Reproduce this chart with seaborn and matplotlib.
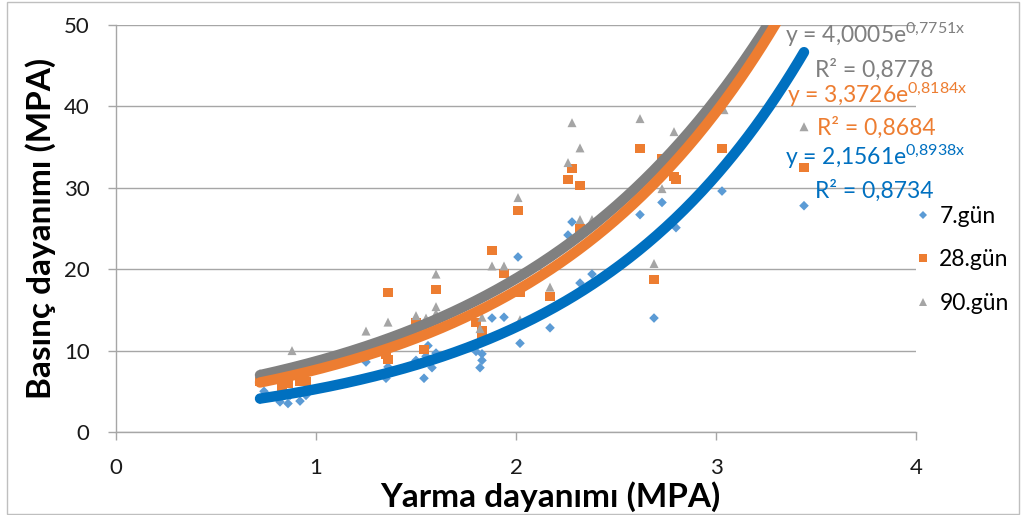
import numpy as np
import pandas as pd
import matplotlib
matplotlib.use("Agg")
import matplotlib.pyplot as plt
import seaborn as sns
from matplotlib.patches import Rectangle

# ---------------- data ----------------
series_names = ["7.gün", "28.gün", "90.gün"]

x7 = [0.72, 0.74, 0.82, 0.86, 0.87, 0.92, 0.95,
      1.25, 1.35, 1.36, 1.50, 1.54, 1.55, 1.56, 1.58, 1.60,
      1.80, 1.82, 1.83, 1.83, 1.88, 1.94, 2.01, 2.02, 2.17,
      2.26, 2.28, 2.32, 2.32, 2.38, 2.62, 2.69, 2.73, 2.80, 3.03, 3.44]
y7 = [4.0, 5.0, 3.7, 3.5, 4.5, 3.8, 4.5,
      8.6, 6.6, 8.0, 8.8, 6.6, 9.3, 10.6, 7.9, 9.7,
      9.9, 7.9, 9.6, 8.8, 14.0, 14.1, 21.5, 10.9, 12.8,
      24.2, 25.8, 25.4, 18.3, 19.4, 26.7, 14.0, 28.2, 25.1, 29.6, 27.8]

x28 = [0.72, 0.83, 0.86, 0.92, 0.95,
       1.35, 1.36, 1.36, 1.50, 1.54, 1.60,
       1.80, 1.83, 1.83, 1.88, 1.94, 2.01, 2.02, 2.17,
       2.26, 2.28, 2.32, 2.32, 2.62, 2.69, 2.73, 2.79, 2.80, 3.03, 3.44]
y28 = [6.2, 5.6, 6.0, 6.2, 6.2,
       9.5, 8.9, 17.1, 13.4, 10.1, 17.5,
       13.4, 12.5, 12.0, 22.3, 19.5, 27.2, 17.1, 16.6,
       31.0, 32.4, 30.3, 25.0, 34.8, 18.7, 33.6, 31.4, 31.0, 34.8, 32.5]

x90 = [0.72, 0.88,
       1.25, 1.36, 1.50, 1.55, 1.60, 1.60, 1.60,
       1.82, 1.83, 1.88, 1.94, 2.01, 2.02, 2.17,
       2.26, 2.28, 2.32, 2.32, 2.38, 2.62, 2.69, 2.73, 2.79, 3.04, 3.44]
y90 = [7.2, 10.0,
       12.4, 13.5, 14.3, 14.0, 19.4, 15.4, 14.6,
       12.7, 14.1, 20.4, 20.4, 28.8, 13.8, 17.8,
       33.1, 38.0, 34.9, 26.1, 26.1, 38.5, 20.7, 29.9, 36.9, 39.6, 37.5]

# exponential trend coefficients y = a * exp(b x)
trend_a = [2.1561, 3.3726, 4.0005]
trend_b = [0.8938, 0.8184, 0.7751]
trend_r2 = ["0,8734", "0,8684", "0,8778"]
trend_a_txt = ["2,1561", "3,3726", "4,0005"]
trend_b_txt = ["0,8938", "0,8184", "0,7751"]

x_ticks = [0, 1, 2, 3, 4]
y_ticks = [0, 10, 20, 30, 40, 50]

# ---------------- style ----------------
sns.set_theme(style="white")
plt.rcParams["font.family"] = ["Lato", "DejaVu Sans"]
plt.rcParams["mathtext.fontset"] = "custom"
plt.rcParams["mathtext.rm"] = "Lato"
plt.rcParams["mathtext.default"] = "regular"

marker_colors = ["#5b9bd5", "#ed7d31", "#a5a5a5"]
line_colors = ["#0070c0", "#ed7d31", "#808080"]
text_colors = ["#0070c0", "#ed7d31", "#7f7f7f"]
markers = ["D", "s", "^"]
msizes = [24, 42, 42]

W, H = 1023, 515
fig = plt.figure(figsize=(W / 100, H / 100), dpi=100)
ax = fig.add_axes([116 / W, 1 - 432 / H, 800 / W, 407 / H])

xs = [x7, x28, x90]
ys = [y7, y28, y90]

for i in range(3):
    df = pd.DataFrame({"x": xs[i], "y": ys[i]})
    sns.scatterplot(data=df, x="x", y="y", ax=ax, marker=markers[i],
                    color=marker_colors[i], s=msizes[i], edgecolor="none",
                    zorder=3, label=series_names[i], legend=False)

for i in range(3):
    xx = np.linspace(min(xs[i]), max(xs[i]), 300)
    yy = trend_a[i] * np.exp(trend_b[i] * xx)
    sns.lineplot(x=xx, y=yy, ax=ax, color=line_colors[i], lw=7.5,
                 solid_capstyle="round", zorder=4 + (2 - i) * 0.1, sort=False,
                 estimator=None)

ax.set_xlim(0, 4)
ax.set_ylim(0, 50)
ax.set_xticks(x_ticks)
ax.set_yticks(y_ticks)
ax.set_xticklabels([str(t) for t in x_ticks])
ax.set_yticklabels([str(t) for t in y_ticks])
ax.grid(axis="y", color="#a6a6a6", lw=1)
ax.grid(axis="x", visible=False)
ax.set_axisbelow(True)
for s in ["top", "right"]:
    ax.spines[s].set_visible(False)
for s in ["left", "bottom"]:
    ax.spines[s].set_color("#a6a6a6")
    ax.spines[s].set_linewidth(1)
ax.tick_params(axis="both", which="major", length=6, width=1, color="#a6a6a6",
               direction="out", labelsize=16, labelcolor="#1a1a1a")
ax.tick_params(axis="x", bottom=True, pad=13)
ax.tick_params(axis="y", left=True, pad=13)

ax.set_xlabel("Yarma dayanımı (MPA)", fontsize=24, fontweight="bold",
              color="#000000")
ax.xaxis.set_label_coords((550 - 116) / 800, -(497 - 432) / 407)
ax.xaxis.label.set_verticalalignment("center")
ax.set_ylabel("Basınç dayanımı (MPA)", fontsize=24, fontweight="bold",
              color="#000000", labelpad=6)

# equations
eq_rows = [(157, 191), (95, 128), (35, 70)]
eq_x = [785, 787, 785]
r2_x = [815, 817, 815]
for i in range(3):
    ye, yr = eq_rows[i]
    bt = trend_b_txt[i].replace(",", "{,}")
    fig.text(eq_x[i] / W, 1 - ye / H,
             "y = " + trend_a_txt[i] + "e$^{" + bt + "x}$",
             color=text_colors[i], fontsize=16.5, ha="left", va="center")
    fig.text(r2_x[i] / W, 1 - yr / H, "R² = " + trend_r2[i],
             color=text_colors[i], fontsize=16.5, ha="left", va="center")

# legend
leg_handles = []
for i in range(3):
    h = plt.Line2D([], [], linestyle="none", marker=markers[i],
                   color=marker_colors[i], markersize=[4, 5.5, 5.5][i],
                   markeredgewidth=0)
    leg_handles.append(h)
leg = ax.legend(leg_handles, series_names, loc="center left",
                bbox_to_anchor=(905 / W, 1 - 260 / H), bbox_transform=fig.transFigure,
                frameon=False, fontsize=16.5, handlelength=0.6, handletextpad=0.4,
                labelspacing=1.0, borderpad=0)
for t in leg.get_texts():
    t.set_color("#000000")

# outer chart border
fig.patches.append(Rectangle((7 / W, 1 / H), 1012 / W, 512 / H, transform=fig.transFigure,
                             fill=False, edgecolor="#bfbfbf", lw=1))

fig.savefig("out.png", dpi=100)
